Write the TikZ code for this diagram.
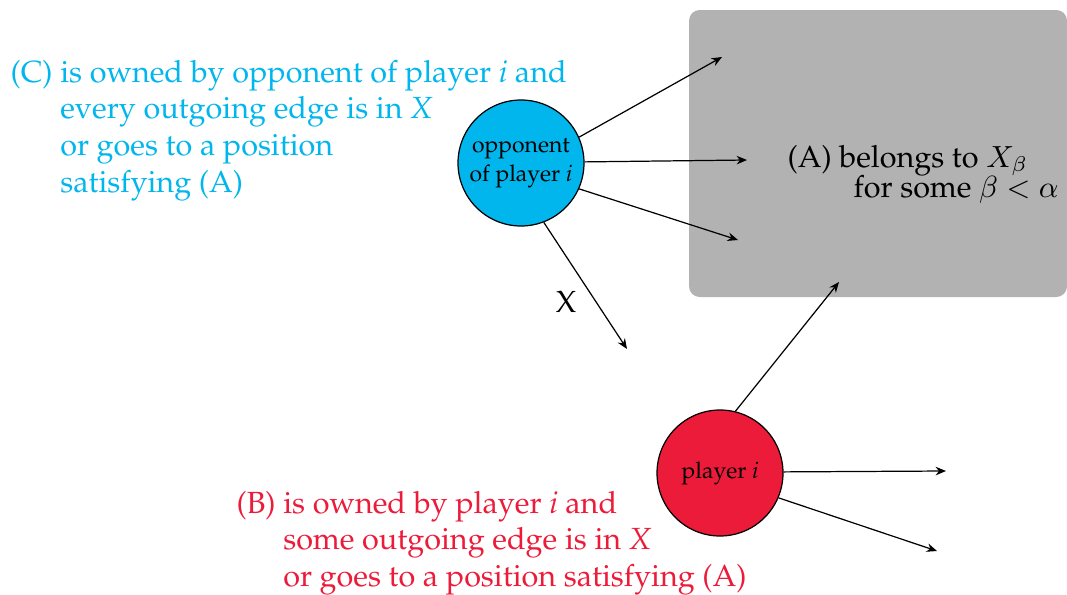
\documentclass[tikz,border=0pt]{standalone}
\usepackage[T1]{fontenc}
\renewcommand{\rmdefault}{ppl}
\usetikzlibrary{arrows.meta}
\definecolor{cyanC}{RGB}{0,182,237}
\definecolor{redB}{RGB}{237,27,58}
\definecolor{boxgray}{RGB}{178,178,178}
\tikzset{
  edge/.style={-{Stealth[length=3.4pt,width=2.8pt]}, line width=0.4pt, black},
  statenode/.style={circle, draw=black, line width=0.4pt, minimum size=41.2pt, inner sep=0pt, font=\fontsize{7.5pt}{9.4pt}\selectfont, align=center},
  desc/.style={inner sep=0pt, anchor=base west},
}
\begin{document}
\begin{tikzpicture}[x=0.327pt, y=-0.327pt]
\useasboundingbox (0,0) rectangle (1067,594);
% region A
\fill[boxgray, rounded corners=3.5pt] (689,10) rectangle (1067,297);
\node[desc] (A) at (787,167) {\begin{tabular}[t]{@{}l@{}}(A) belongs to $X_\beta$\\[-2pt]
\hspace*{21.6pt}for some $\beta<\alpha$\end{tabular}};
% states
\node[statenode, fill=cyanC] (opp) at (521,163) {opponent\\of player \textit{i}};
\node[statenode, fill=redB] (pl) at (720,473) {player \textit{i}};
% targets
\coordinate (t1) at (722,57);
\coordinate (t2) at (747,160);
\coordinate (t3) at (738,240);
\coordinate (t4) at (627,349);
\coordinate (t5) at (839,282);
\coordinate (t6) at (946,471);
\coordinate (t7) at (937,551);
\draw[edge] (opp.24) -- (t1);
\draw[edge] (opp.1) -- (t2);
\draw[edge] (opp.-24) -- (t3);
\draw[edge] (opp.-69) -- node[left=3pt, pos=0.63] (xl) {X} (t4);
\draw[edge] (pl.76) -- (t5);
\draw[edge] (pl.1) -- (t6);
\draw[edge] (pl.-23) -- (t7);
% descriptions
\node[desc, text=cyanC] (C) at (10,82) {\begin{tabular}[t]{@{}l@{\ }l@{}}(C) & is owned by opponent of player \textit{i} and\\
& every outgoing edge is in \textit{X}\\
& or goes to a position\\
& satisfying (A)\end{tabular}};
\node[desc, text=redB] (B) at (236,513) {\begin{tabular}[t]{@{}l@{\ }l@{}}(B) & is owned by player \textit{i} and\\
& some outgoing edge is in \textit{X}\\
& or goes to a position satisfying (A)\end{tabular}};
\end{tikzpicture}
\end{document}
